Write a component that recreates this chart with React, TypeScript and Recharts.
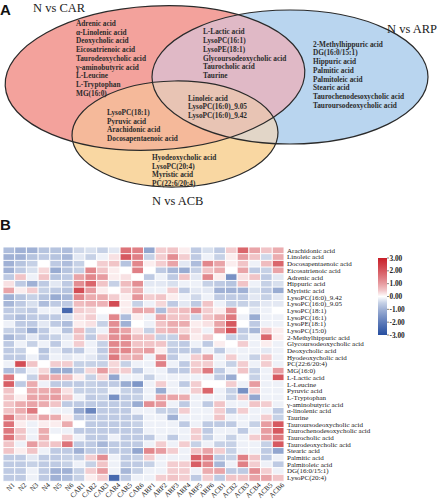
import React from "react";
import { ScatterChart, Scatter, XAxis, YAxis, BarChart, Bar, Cell } from "recharts";

const serif = "'Liberation Serif', 'Times New Roman', serif";
const sans = "'Liberation Sans', Arial, sans-serif";

// ---- Venn (panel A) ----
const carOnly = [
  "Adrenic acid", "α-Linolenic acid", "Deoxycholic acid", "Eicosatrienoic acid",
  "Taurodeoxycholic acid", "γ-aminobutyric acid", "L-Leucine", "L-Tryptophan", "MG(16:0)",
];
const carArp = [
  "L-Lactic acid", "LysoPC(16:1)", "LysoPE(18:1)", "Glycoursodeoxycholic acid",
  "Taurocholic acid", "Taurine",
];
const arpOnly = [
  "2-Methylhippuric acid", "DG(16:0/15:1)", "Hippuric acid", "Palmitic acid",
  "Palmitoleic acid", "Stearic acid", "Taurochenodesoxycholic acid", "Tauroursodeoxycholic acid",
];
const allThree = ["Linoleic acid", "LysoPC(16:0)_9.05", "LysoPC(16:0)_9.42"];
const carAcb = ["LysoPC(18:1)", "Pyruvic acid", "Arachidonic acid", "Docosapentaenoic acid"];
const acbOnly = ["Hyodeoxycholic acid", "LysoPC(20:4)", "Myristic acid", "PC(22:6/20:4)"];

// ellipse layout (chart units == px)
const vennSets = [
  { key: "car", x: 155, y: 78, rx: 150, ry: 72, rot: -3, fill: "#F3A29C" },
  { key: "arp", x: 290, y: 77, rx: 138, ry: 67, rot: 0, fill: "#B9D5EF" },
  { key: "acb", x: 175, y: 134, rx: 103, ry: 53, rot: -1, fill: "#F9D7A2" },
];
const overlapFills = [
  { set: "arp", within: ["car"], fill: "#E0B9C6" },
  { set: "acb", within: ["car"], fill: "#F5B99A" },
  { set: "acb", within: ["arp"], fill: "#E2D6C8" },
  { set: "acb", within: ["car", "arp"], fill: "#E8C4B4" },
];
const vennBlocks = [
  { x: 76, y: 23.3, lines: carOnly },
  { x: 203, y: 31.7, lines: carArp },
  { x: 313, y: 44, lines: arpOnly },
  { x: 188, y: 98, lines: allThree },
  { x: 107, y: 112.3, lines: carAcb },
  { x: 152, y: 157.3, lines: acbOnly },
];
const vennTitles = [
  { x: 33, y: 7.5, text: "N vs CAR" },
  { x: 387, y: 28.5, text: "N vs ARP" },
  { x: 152, y: 201, text: "N vs ACB" },
];

// ---- Heatmap (panel B) ----
const samples = [
  "N1", "N2", "N3", "N4", "N5", "N6",
  "CAR1", "CAR2", "CAR3", "CAR4", "CAR5", "CAR6",
  "ARP1", "ARP2", "ARP3", "ARP4", "ARP5", "ARP6",
  "ACB1", "ACB2", "ACB3", "ACB4", "ACB5", "ACB6",
];
const metabolites = [
  "Arachidonic acid", "Linoleic acid", "Docosapentaenoic acid", "Eicosatrienoic acid",
  "Adrenic acid", "Hippuric acid", "Myristic acid", "LysoPC(16:0)_9.42", "LysoPC(16:0)_9.05",
  "LysoPC(18:1)", "LysoPC(16:1)", "LysoPE(18:1)", "LysoPC(15:0)", "2-Methylhippuric acid",
  "Glycoursodeoxycholic acid", "Deoxycholic acid", "Hyodeoxycholic acid", "PC(22:6/20:4)",
  "MG(16:0)", "L-Lactic acid", "L-Leucine", "Pyruvic acid", "L-Tryptophan",
  "γ-aminobutyric acid", "α-linolenic acid", "Taurine", "Tauroursodeoxycholic acid",
  "Taurochenodesoxycholic acid", "Taurocholic acid", "Taurodeoxycholic acid", "Stearic acid",
  "Palmitic acid", "Palmitoleic acid", "DG(16:0/15:1)", "LysoPC(20:4)",
];
// z-scores, one row per metabolite, columns follow `samples`
const zScores = [
  [-0.8,-1.0,-1.0,-0.7,-0.7,-0.8,-0.4,-0.3,-0.5,-0.2,1.6,1.4,-1.2,0.4,0.5,0.1,-0.6,-0.3,-0.6,0.4,1.8,0.9,0.5,0.8],
  [-1.0,-1.0,-0.7,-0.6,-0.7,-0.9,-0.2,-0.5,-0.1,0.2,2.0,1.4,-0.5,0.4,1.2,0.4,-0.6,-0.1,-0.5,0.1,1.0,0.5,-0.4,0.8],
  [-1.0,-0.7,-0.5,0.0,-0.6,-0.8,-0.5,0.0,0.4,0.5,-0.7,1.3,0.1,0.4,0.9,-0.2,-0.8,1.3,0.9,0.1,0.5,-0.1,0.6,1.8],
  [-1.0,-0.6,-0.3,0.3,-1.1,-0.7,-0.5,1.3,0.5,0.1,0.0,1.4,0.0,-0.6,-0.9,-1.1,-0.5,0.5,0.8,0.0,0.9,-0.6,-0.5,0.9],
  [-0.6,0.5,-0.1,0.5,-0.7,-0.6,0.9,1.3,1.0,0.1,0.2,0.0,-0.6,-0.1,-0.6,0.5,-0.2,1.3,0.1,-1.6,0.2,0.5,-0.6,-0.2],
  [0.2,-0.6,-1.0,-0.6,-0.2,-0.6,1.2,1.8,0.5,-0.5,0.6,1.2,-0.2,-0.2,-0.3,-0.1,-0.1,-0.5,-0.6,-0.7,0.5,-0.1,-0.5,-0.3],
  [0.9,0.1,0.4,-0.5,-0.6,-0.7,2.2,1.0,0.1,0.0,0.4,0.8,-0.1,-0.1,0.4,-0.6,-0.2,-0.2,-1.0,-1.0,-1.0,-0.3,-0.6,-1.1],
  [-1.0,-0.7,-0.5,-0.7,-1.1,-0.9,1.3,0.8,0.8,0.4,0.1,1.1,0.4,0.5,0.1,-0.1,-0.4,-0.1,-0.6,-0.6,-0.6,-0.2,-0.5,-0.2],
  [-0.9,-0.6,-0.3,-0.8,-0.6,-0.6,0.6,0.7,0.7,2.2,0.1,-0.5,-0.1,0.3,-0.6,-0.2,-0.6,0.5,-0.1,-0.5,-0.5,-0.4,-0.2,-0.2],
  [-0.6,-0.5,-0.6,-0.1,-0.1,-2.4,0.4,0.3,0.0,0.0,0.1,0.9,0.8,-0.8,0.5,0.6,1.2,0.4,0.1,1.2,0.0,-0.2,-0.1,0.0],
  [-0.6,-0.8,-0.6,-0.6,-0.6,-0.3,0.2,0.4,-0.1,1.3,-0.8,0.1,-0.1,0.9,0.5,0.5,-0.4,0.5,0.8,1.5,-0.1,-1.1,-0.1,-0.1],
  [-0.1,-0.6,-0.6,-0.2,-0.6,-0.8,0.1,0.2,-0.5,1.2,-1.0,0.0,-0.1,0.5,0.8,0.8,0.1,0.2,0.9,2.0,0.0,-0.6,-0.1,-0.1],
  [-0.5,-0.6,-1.1,-0.6,-0.1,-0.7,0.6,-0.5,-0.1,1.2,0.9,0.2,-0.5,0.6,0.7,0.3,0.2,-0.1,1.1,2.1,-0.6,-0.9,0.4,0.1],
  [-0.9,-0.6,-0.2,-0.6,-0.5,-0.2,0.5,-0.6,0.4,1.2,1.2,0.6,0.5,-0.5,-0.5,0.8,0.1,0.4,0.0,-0.5,-0.5,-0.1,1.8,0.1],
  [-0.6,-0.1,-0.5,-0.1,-0.6,-0.1,0.4,-0.1,-0.5,1.3,1.2,0.5,0.5,0.5,-0.5,-0.6,-0.1,-0.6,0.1,0.0,0.4,-0.1,0.1,-0.1],
  [-0.6,-0.5,0.0,-0.7,-0.2,-0.6,-0.6,-0.1,-0.6,1.2,1.3,0.8,1.0,0.1,-0.6,-0.6,-0.6,-0.1,-0.6,-0.1,-0.1,-0.1,-0.2,-0.1],
  [-0.6,-0.6,-0.1,-0.6,-0.1,-0.2,-0.1,-0.2,-0.5,1.5,0.7,0.8,-0.1,1.2,-0.6,-0.1,0.4,0.9,-0.1,0.4,-0.1,-0.5,0.4,-0.1],
  [-0.1,2.2,0.5,0.0,0.4,0.4,-0.5,-0.5,-0.5,0.3,-0.5,-0.1,-0.1,1.4,-0.1,-0.6,0.4,0.4,-0.1,-0.5,0.4,-0.1,0.4,-0.1],
  [-0.8,-0.6,-0.1,0.3,-1.1,-1.1,-0.6,0.3,1.0,0.4,0.4,-0.6,-0.1,-0.1,-0.6,-0.6,0.5,1.5,-0.6,-0.1,0.5,-0.5,-0.1,1.0],
  [1.5,0.0,-0.5,0.8,0.8,0.6,0.1,-0.5,0.3,-1.2,-0.1,-0.1,-0.5,-0.1,-0.1,-0.1,-0.1,-0.1,-0.6,-1.1,0.0,-0.5,-0.1,2.0],
  [1.9,-0.6,0.8,-0.1,-0.6,-0.6,-0.6,-0.5,-0.6,-0.6,-1.1,-1.5,-0.1,0.4,-0.1,-0.6,0.4,0.0,0.0,0.4,-0.1,1.0,-0.1,-0.1],
  [0.5,0.0,0.8,0.8,0.9,0.2,-0.5,-0.5,-0.5,-0.1,-0.5,-0.6,-0.1,-1.1,-0.1,-0.1,0.4,1.8,-0.1,-0.5,-1.6,0.4,-0.1,-0.1],
  [0.5,0.1,0.9,0.9,1.0,0.5,-0.1,-0.6,-0.5,-1.6,-0.6,-0.5,-0.1,0.9,0.9,0.8,-0.1,-0.1,-0.1,-0.5,0.4,-1.2,-0.1,-0.1],
  [0.5,0.8,0.9,0.8,0.5,-0.6,-0.6,-0.6,-0.6,-0.6,-0.6,-1.1,1.2,1.0,-0.1,-0.6,-0.1,-0.6,0.5,-0.1,-0.1,0.5,0.4,-0.1],
  [0.5,0.8,1.5,0.0,-0.1,-0.1,-1.1,-1.8,-0.6,-0.6,-0.6,-0.1,-0.1,-0.5,-0.5,0.4,-0.1,-0.1,0.4,-0.6,0.4,-0.1,-0.1,-0.6],
  [1.5,0.5,0.5,0.9,0.8,0.1,-0.6,-0.6,-0.6,-0.6,-0.6,-0.6,-0.1,-0.1,-1.0,-0.1,-0.1,-0.1,0.5,-0.1,-0.1,-0.1,0.4,-0.5],
  [1.6,0.1,-0.1,0.1,0.1,0.8,0.0,-0.6,-0.6,-0.6,-0.6,-0.5,-0.1,-0.1,-0.1,-0.6,-0.1,-0.6,-0.6,-0.6,-0.1,-0.5,1.0,2.0],
  [1.5,0.5,-0.1,0.8,-0.1,-0.1,-0.6,-0.6,-0.6,-0.6,-0.6,-0.6,-0.1,-0.1,-0.1,-0.1,0.4,-0.6,-0.1,-0.1,-0.6,-0.1,1.0,2.0],
  [1.6,0.5,-0.1,0.8,0.0,0.4,-0.1,-0.6,-0.6,-0.1,-0.6,-0.6,-0.6,-0.1,-0.6,-0.1,0.4,-0.5,-0.1,-0.5,-0.1,0.4,1.0,1.5],
  [0.5,-0.1,1.0,0.5,0.5,1.6,-0.6,-0.6,-0.9,-0.6,-0.6,-0.6,-0.1,0.4,-0.1,0.4,-0.5,-0.1,-0.5,-0.5,-0.1,-0.1,-0.5,2.0],
  [0.5,0.1,0.5,-0.1,-0.6,-0.6,-1.0,-0.6,-0.6,-0.6,-0.6,-1.2,1.3,1.0,0.4,-0.1,0.5,0.9,0.4,-0.5,-0.1,-0.1,-0.6,-1.2],
  [-0.6,-0.6,-0.2,-0.6,-0.6,-0.5,-0.5,0.4,1.2,-0.1,-0.6,-0.5,0.4,-0.1,-0.1,-0.1,1.9,1.5,-0.6,-0.5,1.4,0.5,-0.6,-0.1],
  [-0.6,-0.6,-0.5,-0.6,-0.6,-0.5,-0.1,-0.5,0.5,-0.1,-0.6,-0.6,-0.5,-0.1,0.4,0.4,1.9,1.3,-0.9,-0.1,1.4,0.4,-0.1,-0.6],
  [-0.6,-0.6,-0.1,-0.6,-1.0,-1.0,-0.5,0.4,1.0,-0.1,-0.9,-0.5,-0.1,-0.1,0.4,0.4,-0.1,0.8,0.9,-0.6,-0.6,1.2,0.4,-0.1],
  [-0.6,-0.6,-0.1,-0.6,-1.0,-0.8,-0.5,0.1,0.4,-2.4,-0.6,-0.1,-0.1,0.4,0.5,0.4,-0.6,0.4,-0.6,0.5,0.5,0.9,0.9,0.5],
];
const colorTicks = [3, 2, 1, 0, -1, -2, -3];

const hot = [200, 30, 40];
const cold = [38, 78, 160];
function zColor(v: number) {
  const t = Math.pow(Math.min(1, Math.abs(v) / 3), 0.75);
  const end = v >= 0 ? hot : cold;
  const c = end.map((e) => Math.round(255 + (e - 255) * t));
  return `rgb(${c[0]},${c[1]},${c[2]})`;
}

// every sample is one unit wide in the stacked grid
const heatRows = metabolites.map((name) => {
  const row: Record<string, any> = { name };
  samples.forEach((s) => (row[s] = 1));
  return row;
});

const rot = (d: any, cx: number, cy: number) => `rotate(${d.rot} ${cx} ${cy})`;

const SetShape = (p: any) => {
  const d = p.payload;
  return (
    <g>
      <defs>
        <clipPath id={`venn-${d.key}`}>
          <ellipse cx={p.cx} cy={p.cy} rx={d.rx} ry={d.ry} transform={rot(d, p.cx, p.cy)} />
        </clipPath>
      </defs>
      <ellipse cx={p.cx} cy={p.cy} rx={d.rx} ry={d.ry} transform={rot(d, p.cx, p.cy)} fill={d.fill} />
    </g>
  );
};

const OverlapShape = (p: any) => {
  const d = p.payload;
  let el: React.ReactNode = (
    <ellipse cx={p.cx} cy={p.cy} rx={d.rx} ry={d.ry} transform={rot(d, p.cx, p.cy)} fill={d.fill} />
  );
  d.within.forEach((w: string) => {
    el = <g clipPath={`url(#venn-${w})`}>{el}</g>;
  });
  return <g>{el}</g>;
};

const OutlineShape = (p: any) => {
  const d = p.payload;
  return (
    <ellipse cx={p.cx} cy={p.cy} rx={d.rx} ry={d.ry} transform={rot(d, p.cx, p.cy)}
      fill="none" stroke="#2a2a2a" strokeWidth={1.2} />
  );
};

const BlockShape = (p: any) => {
  const d = p.payload;
  return (
    <text x={p.cx} y={p.cy} fontFamily={serif} fontWeight="bold" fontSize={7.3} fill="#2b2b2b">
      {d.lines.map((l: string, i: number) => (
        <tspan key={i} x={p.cx} y={p.cy + i * 8.75} dy="0.35em">{l}</tspan>
      ))}
    </text>
  );
};

const TitleShape = (p: any) => (
  <text x={p.cx} y={p.cy} dy="0.35em" fontFamily={serif} fontSize={12.5} fill="#222">
    {p.payload.text}
  </text>
);

const ColTick = (p: any) => {
  const label = samples[Math.floor(p.payload.value)];
  const x = p.x + 3;
  const y = p.y + 1;
  return (
    <g transform={`translate(${x},${y}) rotate(-45)`}>
      <text textAnchor="end" dy="0.7em" fontFamily={serif} fontSize={7} fill="#1a1a1a">{label}</text>
    </g>
  );
};

const RowTick = (p: any) => (
  <text x={p.x} y={p.y} dy="0.35em" textAnchor="start" fontFamily={serif} fontSize={7} fill="#1a1a1a">
    {p.payload.value}
  </text>
);

function Venn() {
  const sets = vennSets;
  const overlaps = overlapFills.map((o) => {
    const s = sets.find((v) => v.key === o.set)!;
    return { ...s, ...o };
  });
  return (
    <ScatterChart width={437} height={215} margin={{ top: 0, right: 0, bottom: 0, left: 0 }}>
      <XAxis type="number" dataKey="x" domain={[0, 437]} hide />
      <YAxis type="number" dataKey="y" domain={[0, 215]} reversed hide />
      <Scatter data={sets} shape={SetShape} isAnimationActive={false} />
      <Scatter data={overlaps} shape={OverlapShape} isAnimationActive={false} />
      <Scatter data={sets} shape={OutlineShape} isAnimationActive={false} />
      <Scatter data={vennBlocks} shape={BlockShape} isAnimationActive={false} />
      <Scatter data={vennTitles} shape={TitleShape} isAnimationActive={false} />
    </ScatterChart>
  );
}

function Heatmap() {
  return (
    <BarChart layout="vertical" width={437} height={260} data={heatRows}
      margin={{ top: 7, right: 3, bottom: 0, left: 3 }} barCategoryGap={0} barGap={0}>
      <XAxis type="number" domain={[0, samples.length]} ticks={samples.map((_, i) => i + 0.5)}
        interval={0} height={19} axisLine={false} tickLine={false} tickSize={0} tickMargin={0}
        tick={<ColTick />} />
      <YAxis type="category" dataKey="name" orientation="right" width={150} interval={0}
        axisLine={false} tickLine={false} tickSize={0} tickMargin={3} tick={<RowTick />} />
      {samples.map((s, c) => (
        <Bar key={s} dataKey={s} stackId="hm" isAnimationActive={false} stroke="#fff" strokeWidth={0.9}>
          {metabolites.map((m, r) => (
            <Cell key={m} fill={zColor(zScores[r][c])} />
          ))}
        </Bar>
      ))}
    </BarChart>
  );
}

function ColorBar() {
  const top = 258, h = 77, x = 378, w = 9;
  const stops = [3, 2.5, 2, 1.5, 1, 0.5, 0, -0.5, -1, -1.5, -2, -2.5, -3];
  return (
    <g>
      <defs>
        <linearGradient id="zbar" x1="0" y1="0" x2="0" y2="1">
          {stops.map((v, i) => (
            <stop key={i} offset={`${(i / (stops.length - 1)) * 100}%`} stopColor={zColor(v)} />
          ))}
        </linearGradient>
      </defs>
      <rect x={x} y={top} width={w} height={h} fill="url(#zbar)" />
      {colorTicks.map((v, i) => {
        const y = top + (i / (colorTicks.length - 1)) * h;
        return (
          <g key={v}>
            <line x1={x + w} x2={x + w + 2} y1={y} y2={y} stroke="#333" strokeWidth={0.6} />
            <text x={x + w + 2.5} y={y} dy="0.35em" fontFamily={serif} fontWeight="bold" fontSize={7.3} fill="#222">
              {v.toFixed(2)}
            </text>
          </g>
        );
      })}
    </g>
  );
}

export default function App() {
  return (
    <div style={{ position: "absolute", left: 0, top: 0, width: 437, height: 500, background: "#fff", overflow: "hidden" }}>
      <div style={{ position: "absolute", left: 0, top: 0 }}>
        <Venn />
      </div>
      <div style={{ position: "absolute", left: 0, top: 240 }}>
        <Heatmap />
      </div>
      <svg width={437} height={500} style={{ position: "absolute", left: 0, top: 0, pointerEvents: "none" }}>
        <text x={0} y={14.5} fontFamily={sans} fontWeight="bold" fontSize={15} fill="#111">A</text>
        <text x={0} y={230} fontFamily={sans} fontWeight="bold" fontSize={15} fill="#111">B</text>
        <ColorBar />
      </svg>
    </div>
  );
}
